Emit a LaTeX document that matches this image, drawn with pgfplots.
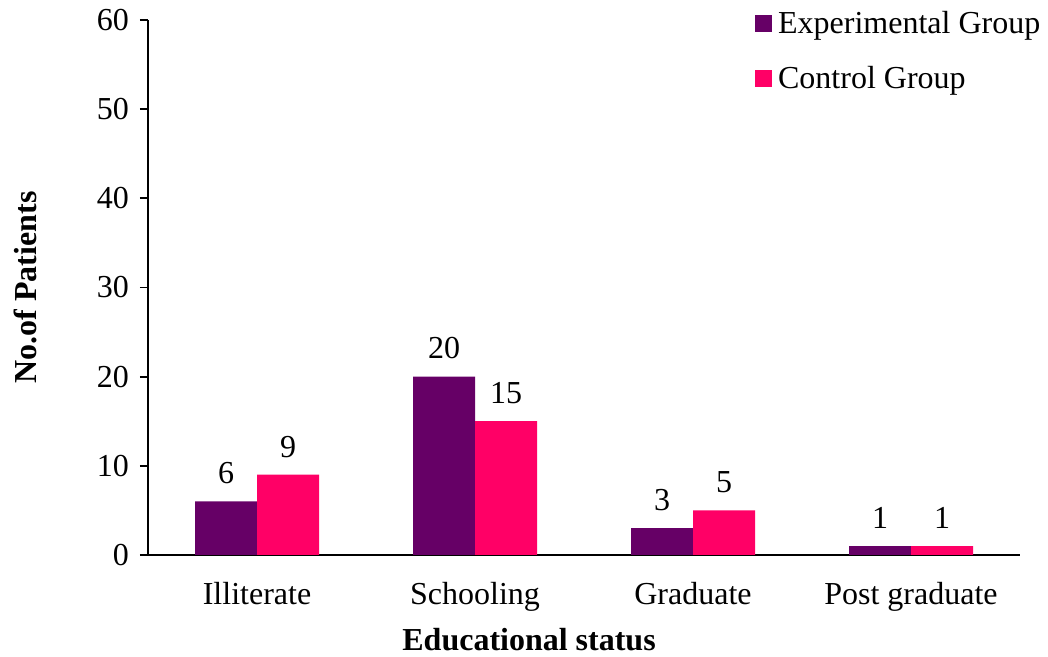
\documentclass[border=0pt]{standalone}
\usepackage{pgfplots}
\pgfplotsset{compat=1.18}
\usepackage{fontspec}
\setmainfont{Liberation Serif}
\definecolor{expgroup}{HTML}{660066}
\definecolor{ctrlgroup}{HTML}{FF0066}
\begin{document}
\begin{tikzpicture}
\path[use as bounding box] (-74pt,-51pt) rectangle (450pt,277.5pt);
\begin{axis}[
  scale only axis,
  width=436pt, height=267.5pt,
  ybar=0pt, bar width=31pt,
  xmin=-0.5, xmax=3.5,
  ymin=0, ymax=60,
  xtick=data,
  xticklabels={Illiterate,Schooling,Graduate,Post graduate},
  ytick={0,10,...,60},
  axis x line*=bottom, axis y line*=left,
  axis line style={-, line width=0.9pt, black},
  xtick style={draw=none},
  ytick style={line width=0.9pt, black},
  tick align=outside, major tick length=4pt,
  /pgf/number format/assume math mode=true,
  tick label style={font=\fontsize{16}{18}\selectfont},
  xticklabel style={yshift=-6pt},
  yticklabel style={xshift=-2pt},
  xlabel={Educational status},
  ylabel={No.of Patients},
  label style={font=\fontsize{16}{18}\selectfont\bfseries},
  xlabel style={at={(axis description cs:0.437,-0.159)}, anchor=center},
  ylabel style={at={(axis description cs:-0.141,0.5)}, anchor=center},
  nodes near coords,
  every node near coord/.append style={font=\fontsize{16}{18}\selectfont, anchor=south, inner sep=0pt, yshift=8.5pt},
  legend cell align=left,
  legend style={draw=none, fill=none, at={(axis description cs:0.696,1.025)}, anchor=north west,
    font=\fontsize{16}{18}\selectfont, inner sep=0pt, row sep=11pt,
    /tikz/every even column/.append style={column sep=0pt},
    /tikz/every odd column/.append style={column sep=1pt}},
  legend image code/.code={\fill[#1] (0pt,-4.2pt) rectangle (8.4pt,4.2pt);},
]
\addplot[fill=expgroup, draw=none] coordinates {(0,6) (1,20) (2,3) (3,1)};
\addplot[fill=ctrlgroup, draw=none] coordinates {(0,9) (1,15) (2,5) (3,1)};
\legend{Experimental Group, Control Group}
\end{axis}
\end{tikzpicture}
\end{document}
